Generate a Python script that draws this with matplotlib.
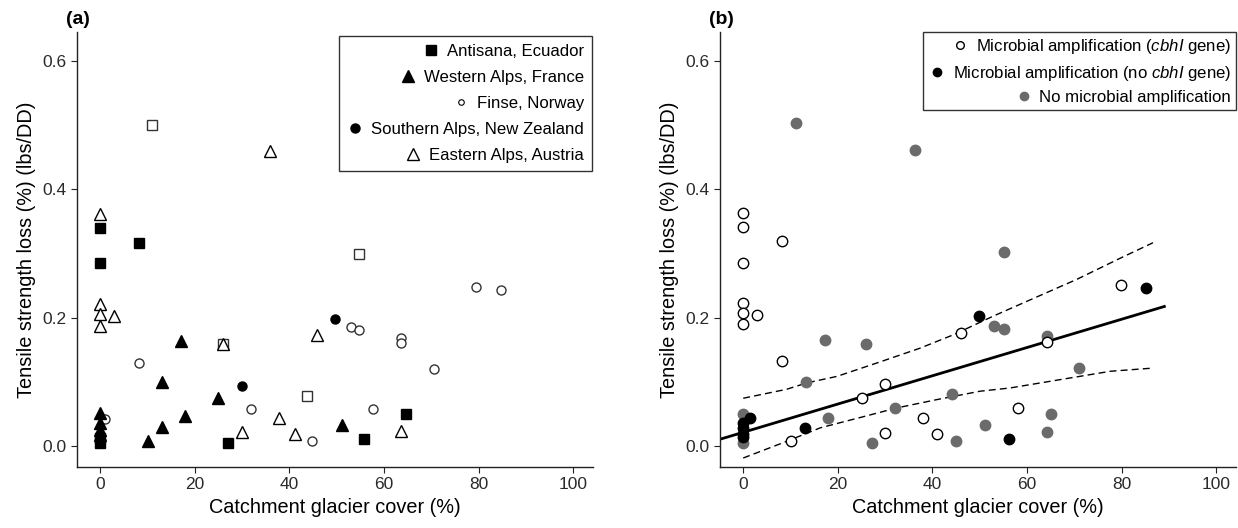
import matplotlib
matplotlib.use("Agg")
import matplotlib.pyplot as plt
from matplotlib.lines import Line2D
import numpy as np

plt.rcParams['font.family'] = ['Liberation Sans', 'DejaVu Sans']
plt.rcParams['mathtext.fontset'] = 'custom'
plt.rcParams['mathtext.it'] = 'Liberation Sans:italic'
plt.rcParams['mathtext.rm'] = 'Liberation Sans'

# ---- panel (a): sites ----
antisana_x = [0, 0, 0, 0, 8.2, 27, 55.7, 64.7]
antisana_y = [0.005, 0.013, 0.285, 0.34, 0.317, 0.005, 0.011, 0.050]

open_sq_x = [11, 26, 43.8, 54.8]
open_sq_y = [0.50, 0.159, 0.079, 0.300]

walps_x = [0, 0, 0, 0, 10, 13, 13, 17.1, 18, 24.9, 51]
walps_y = [0.052, 0.036, 0.025, 0.018, 0.008, 0.031, 0.101, 0.164, 0.047, 0.075, 0.034]

finse_x = [1, 8.2, 31.8, 44.7, 52.9, 54.8, 57.7, 63.6, 63.6, 70.6, 79.5, 84.6]
finse_y = [0.042, 0.130, 0.059, 0.008, 0.186, 0.181, 0.059, 0.169, 0.161, 0.120, 0.248, 0.243]

salps_x = [30, 49.7]
salps_y = [0.094, 0.199]

ealps_x = [0, 0, 0, 0, 3, 26, 30, 35.9, 37.8, 41.1, 45.8, 63.6]
ealps_y = [0.361, 0.222, 0.206, 0.188, 0.203, 0.159, 0.023, 0.459, 0.044, 0.019, 0.174, 0.024]

# ---- panel (b): amplification ----
cbh_x = [0, 0, 0, 0, 0, 0, 3, 8.1, 8.1, 10.1, 25.1, 30, 30, 38, 41, 46, 58, 64.1, 79.9]
cbh_y = [0.363, 0.342, 0.286, 0.223, 0.208, 0.190, 0.204, 0.320, 0.133, 0.008, 0.075,
         0.097, 0.021, 0.044, 0.020, 0.176, 0.060, 0.162, 0.251]

nocbh_x = [0, 0, 0, 0, 1.5, 13.1, 49.9, 56.1, 85.1]
nocbh_y = [0.036, 0.028, 0.020, 0.014, 0.044, 0.028, 0.203, 0.012, 0.246]

noamp_x = [0, 0, 11.2, 13.2, 17.2, 18, 26, 27.2, 32.1, 36.2, 44.1, 45, 51.1, 53.1,
           55.1, 55.1, 64.1, 64.1, 65, 71]
noamp_y = [0.051, 0.006, 0.504, 0.101, 0.165, 0.045, 0.160, 0.006, 0.060, 0.461, 0.081,
           0.009, 0.033, 0.188, 0.183, 0.303, 0.172, 0.022, 0.050, 0.122]

fit_intercept = 0.022
fit_slope = 0.0022
fit_x = [-5, 89]

upper_x = [0, 9.2, 13.5, 19.8, 28.3, 37.4, 44.5, 52.9, 60, 70.5, 79.7, 86.6]
upper_y = [0.075, 0.089, 0.099, 0.109, 0.130, 0.153, 0.174, 0.203, 0.226, 0.260, 0.293, 0.317]
lower_x = [0, 9.2, 16.3, 24.7, 32.5, 41, 50.1, 56.4, 67, 77.6, 86.7]
lower_y = [-0.018, 0.008, 0.029, 0.045, 0.060, 0.073, 0.086, 0.091, 0.104, 0.117, 0.122]

GREY = '#6b6b6b'


def style_axes(ax):
    ax.set_xlim(-4.9, 104.2)
    ax.set_ylim(-0.032, 0.645)
    ax.set_xticks([0, 20, 40, 60, 80, 100])
    ax.set_yticks([0.0, 0.2, 0.4, 0.6])
    ax.set_yticklabels(['0.0', '0.2', '0.4', '0.6'])
    for s in ['top', 'right']:
        ax.spines[s].set_visible(False)
    for s in ['left', 'bottom']:
        ax.spines[s].set_linewidth(1.0)
        ax.spines[s].set_color('#222222')
    ax.tick_params(direction='out', length=4, width=0.8, labelsize=12.5,
                   colors='#222222', labelcolor='#2a2a2a')
    ax.set_xlabel('Catchment glacier cover (%)', fontsize=14.3, labelpad=4)
    ax.set_ylabel('Tensile strength loss (%) (lbs/DD)', fontsize=14.3, labelpad=5)


def right_align_legend(leg):
    for col in leg._legend_handle_box.get_children():
        col.align = 'right'


fig = plt.figure(figsize=(12.38, 5.28), dpi=100)
ax1 = fig.add_axes([0.0622, 0.1155, 0.417, 0.824])
ax2 = fig.add_axes([0.5816, 0.1155, 0.417, 0.824])

# panel a
ax1.plot(open_sq_x, open_sq_y, 's', ms=7, mfc='white', mec='#333333', mew=1.0, ls='none')
ax1.plot(ealps_x, ealps_y, '^', ms=9, mfc='white', mec='black', mew=1.0, ls='none')
ax1.plot(finse_x, finse_y, 'o', ms=6.5, mfc='white', mec='#333333', mew=1.0, ls='none')
ax1.plot(antisana_x, antisana_y, 's', ms=7, color='black', ls='none')
ax1.plot(walps_x, walps_y, '^', ms=9, color='black', ls='none')
ax1.plot(salps_x, salps_y, 'o', ms=6.5, color='black', ls='none')
style_axes(ax1)

handles_a = [
    Line2D([], [], marker='s', ms=7, color='black', ls='none'),
    Line2D([], [], marker='^', ms=9, color='black', ls='none'),
    Line2D([], [], marker='o', ms=4, mfc='white', mec='black', mew=0.8, ls='none'),
    Line2D([], [], marker='o', ms=6.5, color='black', ls='none'),
    Line2D([], [], marker='^', ms=9, mfc='white', mec='black', mew=1.0, ls='none'),
]
labels_a = ['Antisana, Ecuador', 'Western Alps, France', 'Finse, Norway',
            'Southern Alps, New Zealand', 'Eastern Alps, Austria']
leg = ax1.legend(handles_a, labels_a, loc='upper right', bbox_to_anchor=(0.997, 0.99),
                 fontsize=12.1, frameon=True, fancybox=False, edgecolor='black',
                 handlelength=1.0, handletextpad=0.45, labelspacing=0.66,
                 borderpad=0.45, borderaxespad=0)
leg.get_frame().set_linewidth(1.0)
right_align_legend(leg)

# panel b
fit_xa = np.array(fit_x)
ax2.plot(fit_xa, fit_intercept + fit_slope * fit_xa, color='black', lw=2)
ax2.plot(upper_x, upper_y, color='black', lw=1, ls=(0, (5, 3)))
ax2.plot(lower_x, lower_y, color='black', lw=1, ls=(0, (5, 3)))
ax2.plot(noamp_x, noamp_y, 'o', ms=7.5, color=GREY, ls='none')
ax2.plot(cbh_x, cbh_y, 'o', ms=7.5, mfc='white', mec='black', mew=1.0, ls='none')
ax2.plot(nocbh_x, nocbh_y, 'o', ms=7.5, color='black', ls='none')
style_axes(ax2)

handles_b = [
    Line2D([], [], marker='o', ms=5.5, mfc='white', mec='black', mew=1.0, ls='none'),
    Line2D([], [], marker='o', ms=6, color='black', ls='none'),
    Line2D([], [], marker='o', ms=6, color=GREY, ls='none'),
]
labels_b = [r'Microbial amplification ($\it{cbhI}$ gene)',
            r'Microbial amplification (no $\it{cbhI}$ gene)',
            'No microbial amplification']
leg2 = ax2.legend(handles_b, labels_b, loc='upper right', bbox_to_anchor=(1.0, 1.0),
                  fontsize=12.1, frameon=True, fancybox=False, edgecolor='black',
                  handlelength=1.0, handletextpad=0.45, labelspacing=0.45,
                  borderpad=0.3, borderaxespad=0)
leg2.get_frame().set_linewidth(1.0)
right_align_legend(leg2)

fig.text(0.063, 0.963, '(a)', fontsize=14, fontweight='bold', ha='center', va='center')
fig.text(0.583, 0.963, '(b)', fontsize=14, fontweight='bold', ha='center', va='center')

fig.savefig('out.png', dpi=100)
